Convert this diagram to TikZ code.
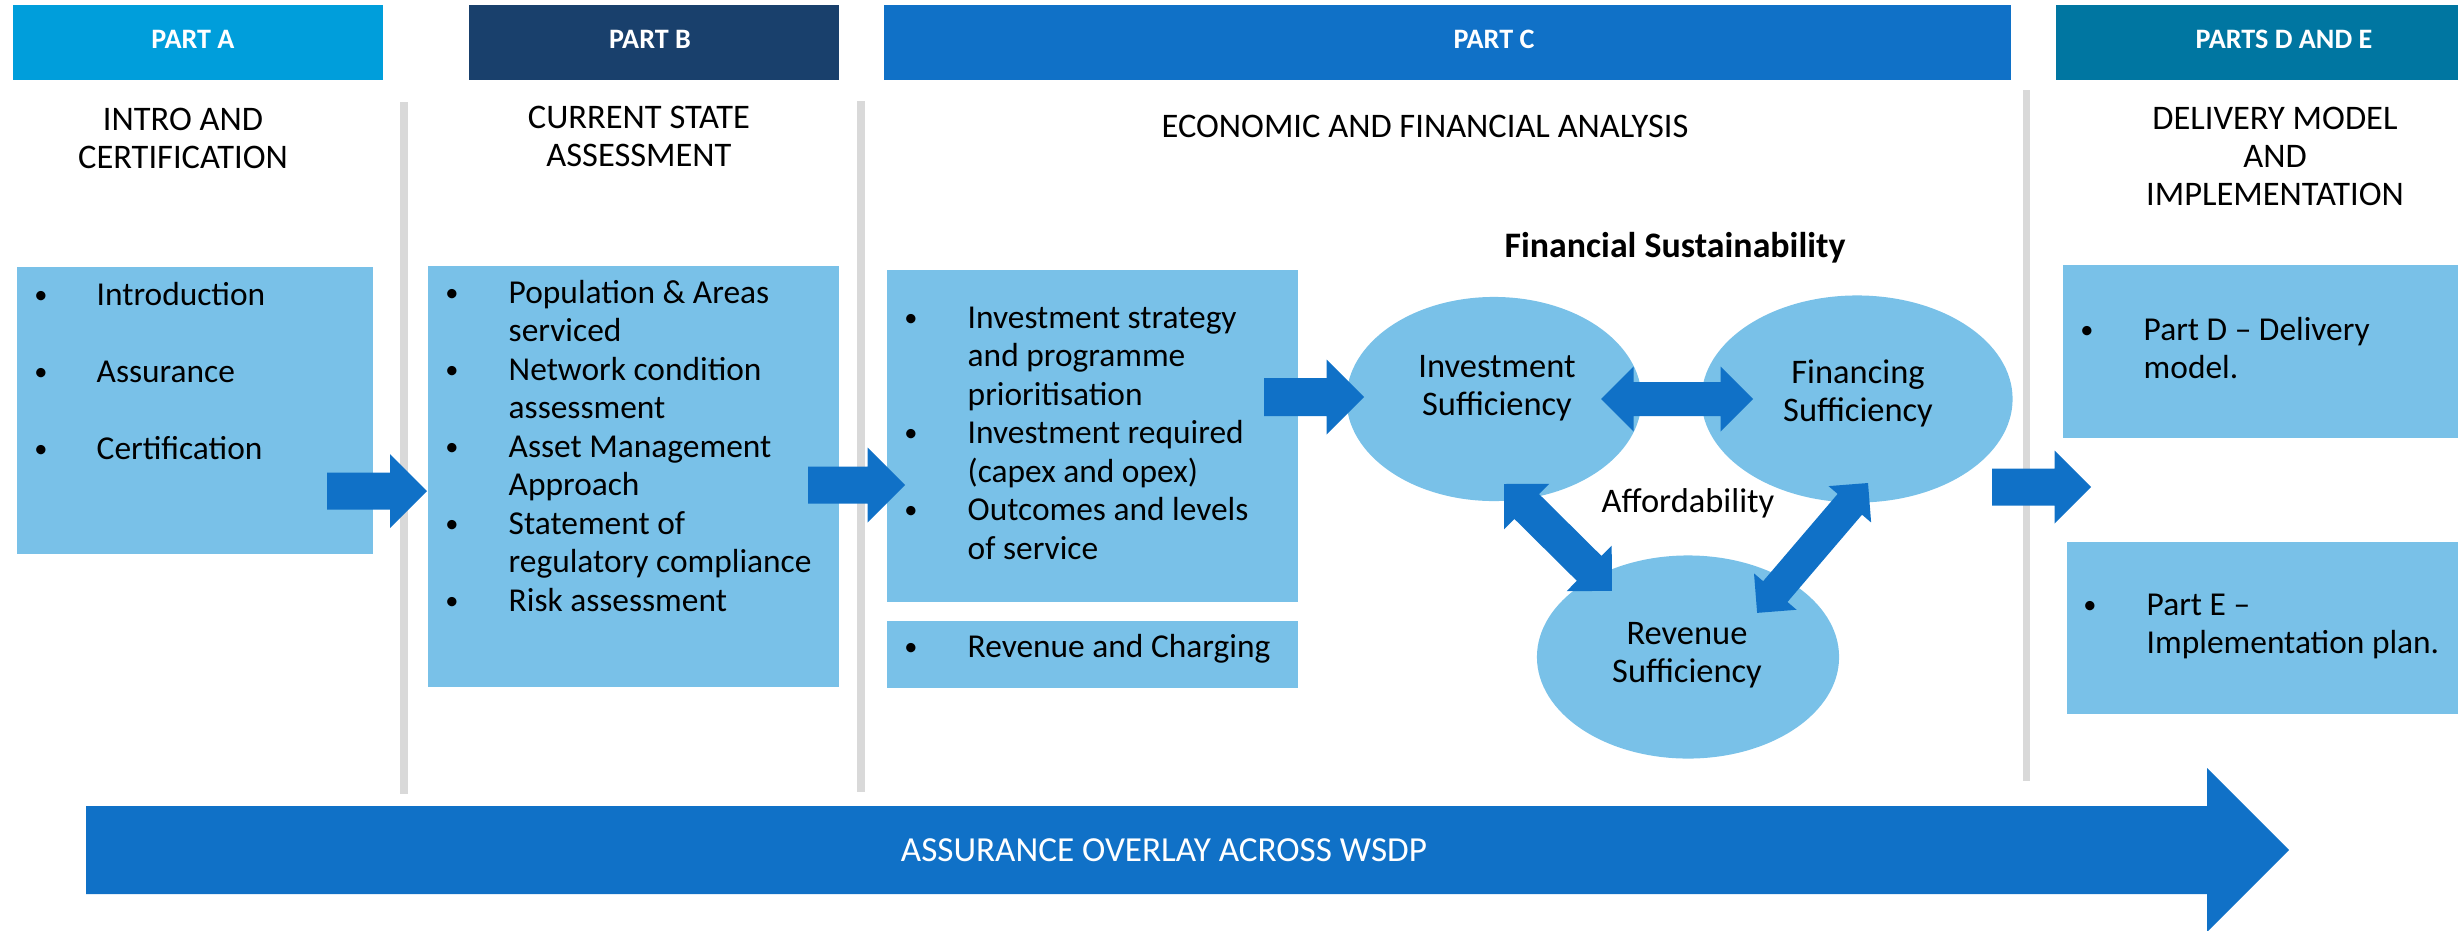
\documentclass[tikz,border=0pt]{standalone}
\usepackage{fontspec}
\setmainfont{Carlito}
\usepackage{tikz}
\usepackage{xcolor}
\usetikzlibrary{calc,shapes.geometric}

\definecolor{partA}{RGB}{0,158,219}
\definecolor{partB}{RGB}{25,64,108}
\definecolor{flowblue}{RGB}{16,113,199}
\definecolor{partDE}{RGB}{0,118,161}
\definecolor{boxblue}{RGB}{121,193,232}
\definecolor{sepgray}{RGB}{217,217,217}

\tikzset{
  partbar/.style={inner sep=0pt, minimum height=0.75cm, anchor=north west},
  partlabel/.style={font=\bfseries\fontsize{8}{9}\selectfont, text=white, inner sep=0pt, anchor=base},
  coltitle/.style={font=\fontsize{9.8}{10.8}\selectfont, align=center, inner sep=0pt, anchor=base},
  divider/.style={draw=sepgray, line width=2pt},
  listbox/.style={fill=boxblue, inner sep=0pt, anchor=north west},
  suffoval/.style={ellipse, fill=boxblue, inner sep=0pt},
  ovaltext/.style={font=\fontsize{9.8}{10.8}\selectfont, align=center, inner sep=0pt, anchor=base},
  itemtext/.style={font=\fontsize{9.5}{10.95}\selectfont, inner sep=0pt, anchor=base west},
  bullet/.style={font=\fontsize{7.5}{9}\selectfont, inner sep=0pt, anchor=base, yshift=0.5pt},
}

\newcommand{\flowarrow}[4]{%
  \path (#1); \pgfgetlastxy{\fax}{\fay}%
  \path (#2); \pgfgetlastxy{\fbx}{\fby}%
  \pgfmathsetmacro{\faang}{atan2(\fby-\fay,\fbx-\fax)}%
  \pgfmathsetmacro{\falen}{veclen(\fbx-\fax,\fby-\fay)}%
  \fill[flowblue, shift={(#1)}, rotate=\faang]
    (0pt,#3*0.01cm) -- (\falen pt-#4*0.01cm,#3*0.01cm) -- (\falen pt-#4*0.01cm,#4*0.01cm)
    -- (\falen pt,0pt) -- (\falen pt-#4*0.01cm,-#4*0.01cm) -- (\falen pt-#4*0.01cm,-#3*0.01cm)
    -- (0pt,-#3*0.01cm) -- cycle;}

\newcommand{\flowarrowboth}[4]{%
  \path (#1); \pgfgetlastxy{\fax}{\fay}%
  \path (#2); \pgfgetlastxy{\fbx}{\fby}%
  \pgfmathsetmacro{\faang}{atan2(\fby-\fay,\fbx-\fax)}%
  \pgfmathsetmacro{\falen}{veclen(\fbx-\fax,\fby-\fay)}%
  \fill[flowblue, shift={(#1)}, rotate=\faang]
    (#4*0.01cm,#3*0.01cm) -- (\falen pt-#4*0.01cm,#3*0.01cm) -- (\falen pt-#4*0.01cm,#4*0.01cm)
    -- (\falen pt,0pt) -- (\falen pt-#4*0.01cm,-#4*0.01cm) -- (\falen pt-#4*0.01cm,-#3*0.01cm)
    -- (#4*0.01cm,-#3*0.01cm) -- (#4*0.01cm,-#4*0.01cm) -- (0pt,0pt)
    -- (#4*0.01cm,#4*0.01cm) -- cycle;}

\begin{document}
\begin{tikzpicture}[x=0.01cm, y=-0.01cm]
  \useasboundingbox (0,0) rectangle (2458,930);

  \node[partbar, fill=partA, minimum width=3.70cm] (hA) at (12,4) {};
  \node[partbar, fill=partB, minimum width=3.70cm] (hB) at (468,4) {};
  \node[partbar, fill=flowblue, minimum width=11.27cm] (hC) at (883,4) {};
  \node[partbar, fill=partDE, minimum width=4.03cm] (hDE) at (2055,4) {};
  \node[partlabel] (lA) at (193,48) {PART A};
  \node[partlabel] (lB) at (650,48) {PART B};
  \node[partlabel] (lC) at (1494,48) {PART C};
  \node[partlabel] (lDE) at (2284,48) {PARTS D AND E};

  \node[coltitle] (tA) at (183,168) {INTRO AND\\CERTIFICATION};
  \node[coltitle] (tB) at (639,166) {CURRENT STATE\\ASSESSMENT};
  \node[coltitle] (tC) at (1425,137) {ECONOMIC AND FINANCIAL ANALYSIS};
  \node[coltitle] (tDE) at (2275,205) {DELIVERY MODEL\\AND\\IMPLEMENTATION};

  \draw[divider] (404,102) -- (404,794);
  \draw[divider] (861,101) -- (861,792);
  \draw[divider] (2026,90) -- (2026,781);

  \node[listbox, minimum width=3.56cm, minimum height=2.87cm] (boxA) at (16,266) {};
  \node[listbox, minimum width=4.11cm, minimum height=4.21cm] (boxB) at (427,265) {};
  \node[listbox, minimum width=4.11cm, minimum height=3.32cm] (boxC) at (886,269) {};
  \node[listbox, minimum width=4.11cm, minimum height=0.67cm] (boxR) at (886,620) {};
  \node[listbox, minimum width=3.96cm, minimum height=1.73cm] (boxD) at (2062,264) {};
  \node[listbox, minimum width=3.92cm, minimum height=1.72cm] (boxE) at (2066,541) {};

  \node[suffoval, minimum width=2.95cm, minimum height=2.04cm] (inv) at (1494,399) {};
  \node[suffoval, minimum width=3.11cm, minimum height=2.07cm] (fin) at (1857,399) {};
  \node[suffoval, minimum width=3.02cm, minimum height=2.03cm] (rev) at (1688,657) {};

  \foreach \t [count=\i from 0] in {Introduction, Assurance, Certification} {
    \node[bullet] (bA\i) at (41,305+77*\i) {\textbullet};
    \node[itemtext] (iA\i) at (96,305+77*\i) {\t};
  }
  \foreach \t [count=\i from 0] in {Population \& Areas, serviced, Network condition, assessment,
      Asset Management, Approach, Statement of, regulatory compliance, Risk assessment}
    \node[itemtext] (iB\i) at (508,303+38.5*\i) {\t};
  \foreach \i in {0,2,4,6,8}
    \node[bullet] (bB\i) at (452,303+38.5*\i) {\textbullet};
  \foreach \t [count=\i from 0] in {Investment strategy, and programme, prioritisation,
      Investment required, (capex and opex), Outcomes and levels, of service}
    \node[itemtext] (iC\i) at (967,328+38.5*\i) {\t};
  \foreach \i in {0,3,5}
    \node[bullet] (bC\i) at (911,328+38.5*\i) {\textbullet};
  \node[bullet] (bR) at (911,657) {\textbullet};
  \node[itemtext] (iR) at (967,657) {Revenue and Charging};
  \node[bullet] (bD) at (2087,340) {\textbullet};
  \node[itemtext] (iD0) at (2143,340) {Part D – Delivery};
  \node[itemtext] (iD1) at (2143,378) {model.};
  \node[bullet] (bE) at (2090,615) {\textbullet};
  \node[itemtext] (iE0) at (2146,615) {Part E –};
  \node[itemtext] (iE1) at (2146,653) {Implementation plan.};

  \node[font=\bfseries\fontsize{10.2}{12}\selectfont, inner sep=0pt, anchor=base] (fsus) at (1675,257) {Financial Sustainability};
  \node[ovaltext] (invL) at (1497,415) {Investment\\Sufficiency};
  \node[ovaltext] (finL) at (1858,421) {Financing\\Sufficiency};
  \node[ovaltext] (revL) at (1687,682) {Revenue\\Sufficiency};
  \node[ovaltext] (aff) at (1688,512) {Affordability};

  \coordinate (ab1) at (327,491);
  \coordinate (bc1) at (808,485);  \coordinate (bc2) at (905,485);
  \coordinate (ci1) at (1264,397); \coordinate (ci2) at (1364,397);
  \coordinate (if1) at (1601,399); \coordinate (if2) at (1753,399);
  \coordinate (ir1) at (1504,484); \coordinate (ir2) at (1612,591);
  \coordinate (fr1) at (1868,483); \coordinate (fr2) at (1757,613);
  \coordinate (de1) at (1992,487); \coordinate (de2) at (2091,487);
  \coordinate (as1) at (86,850);   \coordinate (as2) at (2289,850);

  \flowarrow{ab1}{ab1 -| boxB.west}{18.5}{37}
  \flowarrow{bc1}{bc2}{18.5}{37.5}
  \flowarrow{ci1}{ci2}{19}{37.5}
  \flowarrowboth{if1}{if2}{17}{32.5}
  \flowarrowboth{ir1}{ir2}{17.5}{32}
  \flowarrowboth{fr1}{fr2}{16}{28}
  \flowarrow{de1}{de2}{18.5}{36.5}
  \flowarrow{as1}{as2}{44}{82}
  \node[font=\fontsize{10}{12}\selectfont, text=white, inner sep=0pt, anchor=base] (asL) at (1164,861) {ASSURANCE OVERLAY ACROSS WSDP};
\end{tikzpicture}
\end{document}
